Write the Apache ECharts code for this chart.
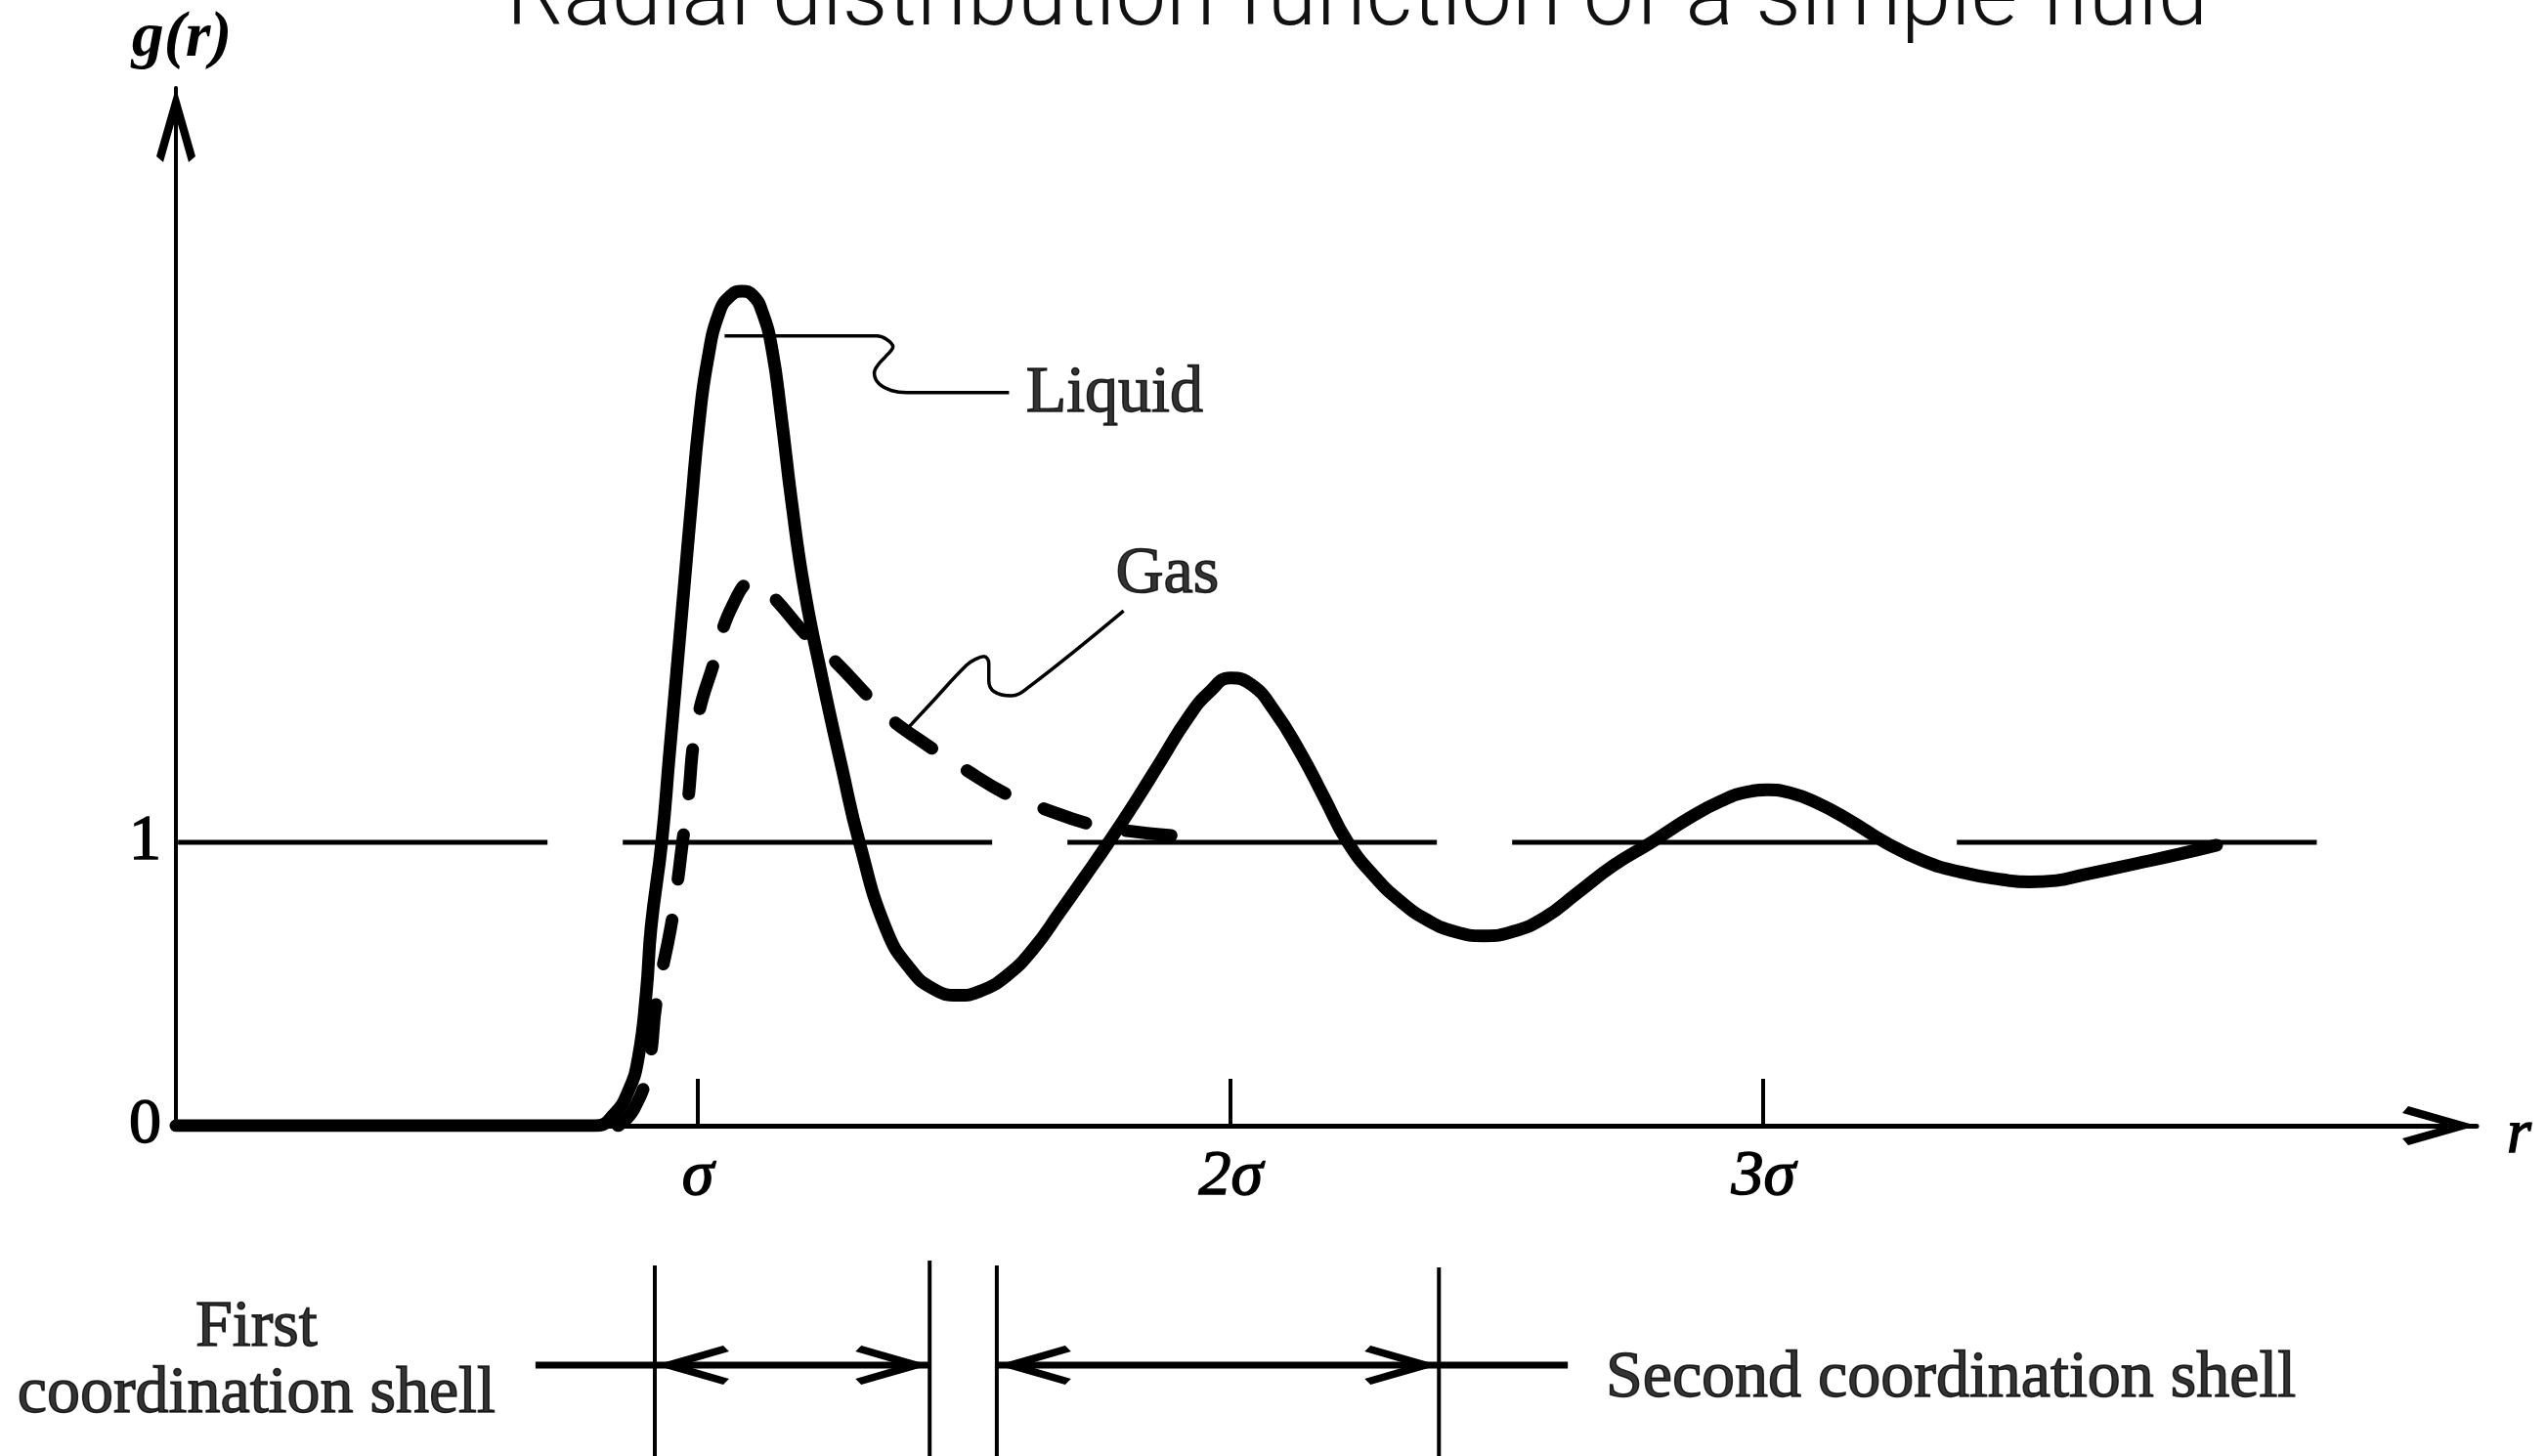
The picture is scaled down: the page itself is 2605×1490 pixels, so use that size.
<!DOCTYPE html>
<html><head><meta charset="utf-8">
<script src="https://cdn.jsdelivr.net/npm/echarts@6/dist/echarts.min.js"></script>
<style>html,body{margin:0;padding:0;background:#fff}#c{width:2605px;height:1490px}</style>
</head><body><div id="c"></div>
<script>
// ---------- data (r in units of sigma, g(r)) ----------
const titleText = 'Radial distribution function of a simple fluid';
const yAxisName = 'g(r)';
const xAxisName = 'r';
const xTickValues = [1, 2, 3];
const xTickLabels = ['σ', '2σ', '3σ'];
const yTickValues = [0, 1];
const yTickLabels = ['0', '1'];

const liquidR = [0.02, 0.60, 0.807, 0.842, 0.870, 0.888, 0.903, 0.912, 0.932, 0.946, 0.960, 0.974, 0.988, 1.002, 1.018, 1.040, 1.062, 1.083, 1.103, 1.121, 1.139, 1.156, 1.176, 1.200, 1.233, 1.270, 1.303, 1.354, 1.40, 1.44, 1.488, 1.53, 1.58, 1.63, 1.68, 1.725, 1.771, 1.82, 1.87, 1.92, 1.96, 2.00, 2.04, 2.08, 2.13, 2.175, 2.22, 2.27, 2.32, 2.37, 2.42, 2.475, 2.53, 2.59, 2.65, 2.72, 2.79, 2.86, 2.92, 2.97, 3.007, 3.05, 3.10, 3.16, 3.229, 3.30, 3.37, 3.45, 3.50, 3.55, 3.60, 3.70, 3.78, 3.851];
const liquidG = [0, 0, 0, 0.04, 0.125, 0.24, 0.47, 0.70, 1.0, 1.30, 1.60, 1.90, 2.20, 2.48, 2.70, 2.87, 2.93, 2.945, 2.93, 2.87, 2.74, 2.51, 2.20, 1.89, 1.58, 1.265, 1.0, 0.69, 0.55, 0.485, 0.46, 0.475, 0.53, 0.625, 0.755, 0.875, 1.0, 1.14, 1.29, 1.44, 1.53, 1.58, 1.555, 1.47, 1.32, 1.16, 1.0, 0.88, 0.79, 0.725, 0.685, 0.67, 0.685, 0.735, 0.82, 0.92, 1.0, 1.085, 1.145, 1.178, 1.185, 1.175, 1.14, 1.08, 1.0, 0.935, 0.895, 0.868, 0.86, 0.865, 0.885, 0.925, 0.958, 0.99];

const gasR = [0.85, 0.88, 0.906, 0.923, 0.949, 0.961, 0.971, 0.980, 0.998, 1.031, 1.066, 1.105, 1.139, 1.204, 1.246, 1.317, 1.345, 1.448, 1.486, 1.589, 1.640, 1.738, 1.809, 1.916];
const gasG = [0, 0.06, 0.20, 0.45, 0.70, 0.85, 1.0, 1.125, 1.42, 1.64, 1.84, 1.92, 1.87, 1.73, 1.66, 1.52, 1.46, 1.32, 1.275, 1.16, 1.125, 1.063, 1.04, 1.02];

const unityR = [0.024, 4.039];
const unityG = [1, 1];

const liquidLeaderR = [1.050, 1.336, 1.354, 1.366, 1.354, 1.339, 1.331, 1.340, 1.364, 1.392, 1.584];
const liquidLeaderG = [2.787, 2.787, 2.775, 2.749, 2.718, 2.687, 2.656, 2.618, 2.594, 2.587, 2.587];
const gasLeaderR = [1.397, 1.439, 1.504, 1.523, 1.537, 1.546, 1.546, 1.556, 1.588, 1.621, 1.799];
const gasLeaderG = [1.409, 1.494, 1.625, 1.648, 1.656, 1.632, 1.571, 1.532, 1.517, 1.548, 1.817];

const curveNames = ['Liquid', 'Gas'];
const curveNameR = [1.782, 1.881];
const curveNameG = [2.583, 1.945];

// coordination-shell markers (lower panel, y in 0..1 of that panel)
const shellBounds = [0.919, 1.435, 1.561, 2.391];
const shellTops = [0.975, 1.0, 0.975, 0.965];
const dimStart = [0.695, 1.561];
const dimEnd = [1.435, 2.633];
const dimLeftTip = [0.919, 1.561];
const dimRightTip = [1.435, 2.391];
const dimLevel = [0.465, 0.465];
const shellLabels = ['First\ncoordination shell', 'Second coordination shell'];
const shellLabelR = [0.171, 3.352];
const shellLabelY = [0.485, 0.395];

// ---------- chart ----------
const zip = (a, b) => a.map((v, i) => [v, b[i]]);
const SERIF = 'Liberation Serif';
const arrowPath = 'path://M20,0 L40,70 L33,76 L20,30 L7,76 L0,70 Z';
const X_MIN = 0.02, X_MAX = 4.339;
const INK = { color: '#000', textBorderColor: '#000', textBorderWidth: 1.5 };

function dart(tip, d) {
  const x = tip[0], y = tip[1];
  return [[x, y], [x + d * 70, y - 20], [x + d * 76, y - 14], [x + d * 28, y], [x + d * 76, y + 14], [x + d * 70, y + 20]];
}

const chart = echarts.init(document.getElementById('c'), null, { renderer: 'canvas' });
chart.setOption({
  animation: false,
  backgroundColor: '#fff',
  textStyle: { fontFamily: SERIF, color: '#000' },
  title: {
    text: titleText, left: 518, top: -44, padding: 0,
    textStyle: { fontFamily: 'Roboto', fontWeight: 300, fontSize: 92, color: '#111' }
  },
  grid: [
    { left: 180, right: 71, top: 90, bottom: 338 },
    { left: 180, right: 71, top: 1290, bottom: 0 }
  ],
  xAxis: [{
    type: 'value', min: X_MIN, max: X_MAX,
    name: xAxisName, nameLocation: 'end', nameGap: 31,
    nameTextStyle: Object.assign({ fontFamily: SERIF, fontStyle: 'italic', fontSize: 64, verticalAlign: 'top', lineHeight: 20 }, INK),
    axisLine: { show: true, onZero: false, symbol: ['none', arrowPath], symbolSize: [40, 76], symbolOffset: [0, -38],
      lineStyle: { color: '#000', width: 5 } },
    axisTick: { show: true, inside: true, length: 48, customValues: xTickValues, lineStyle: { color: '#000', width: 4 } },
    axisLabel: Object.assign({ show: true, customValues: xTickValues, margin: 20,
      formatter: v => xTickLabels[xTickValues.indexOf(v)] || '',
      fontFamily: SERIF, fontStyle: 'italic', fontSize: 66 }, INK),
    splitLine: { show: false }
  }, {
    type: 'value', gridIndex: 1, min: X_MIN, max: X_MAX, show: false
  }],
  yAxis: [{
    type: 'value', min: 0, max: 3.662,
    name: yAxisName, nameLocation: 'end', nameGap: 17,
    nameTextStyle: { fontFamily: SERIF, fontStyle: 'italic', fontWeight: 'bold', fontSize: 66, color: '#000', padding: [0, 0, 0, 12] },
    axisLine: { show: true, onZero: false, symbol: ['none', arrowPath], symbolSize: [40, 76], symbolOffset: [0, -38],
      lineStyle: { color: '#000', width: 4 } },
    axisTick: { show: false },
    axisLabel: Object.assign({ show: true, customValues: yTickValues, margin: 15,
      formatter: v => yTickLabels[yTickValues.indexOf(v)] || '',
      fontFamily: SERIF, fontSize: 66 }, INK),
    splitLine: { show: false }
  }, {
    type: 'value', gridIndex: 1, min: 0, max: 1, show: false
  }],
  series: [
    { type: 'line', name: 'unity', data: zip(unityR, unityG), symbol: 'none', silent: true,
      lineStyle: { color: '#000', width: 5, type: [378, 77] }, z: 2 },
    { type: 'line', name: 'Liquid', data: zip(liquidR, liquidG), symbol: 'none', smooth: 0.5,
      lineStyle: { color: '#000', width: 13, cap: 'round', join: 'round' }, z: 3 },
    { type: 'line', name: 'Gas', data: zip(gasR, gasG), symbol: 'none', smooth: 0.5,
      lineStyle: { color: '#000', width: 13, type: [46, 42], cap: 'round', join: 'round' }, z: 3 },
    { type: 'line', name: 'liquidLeader', data: zip(liquidLeaderR, liquidLeaderG), symbol: 'none', smooth: 0.4,
      lineStyle: { color: '#000', width: 3.5 }, z: 4 },
    { type: 'line', name: 'gasLeader', data: zip(gasLeaderR, gasLeaderG), symbol: 'none', smooth: 0.4,
      lineStyle: { color: '#000', width: 3.5 }, z: 4 },
    { type: 'scatter', name: 'curveNames', data: curveNameR.map((r, i) => [r, curveNameG[i], curveNames[i]]),
      symbolSize: 1, itemStyle: { color: 'rgba(0,0,0,0)' }, clip: false, z: 5,
      label: Object.assign({ show: true, position: 'inside', formatter: p => p.value[2], fontFamily: SERIF, fontSize: 68 }, INK) },
    // lower panel: shell boundaries
    { type: 'custom', name: 'shellBounds', xAxisIndex: 1, yAxisIndex: 1, clip: false,
      data: shellBounds.map((r, i) => [r, shellTops[i]]),
      renderItem: (params, api) => {
        const p0 = api.coord([api.value(0), 0]);
        const p1 = api.coord([api.value(0), api.value(1)]);
        return { type: 'line', shape: { x1: p0[0], y1: p0[1] + 5, x2: p1[0], y2: p1[1] },
          style: { stroke: '#000', lineWidth: 4 } };
      } },
    { type: 'custom', name: 'shellDims', xAxisIndex: 1, yAxisIndex: 1, clip: false,
      data: dimStart.map((s, i) => [s, dimEnd[i], dimLeftTip[i], dimRightTip[i], dimLevel[i]]),
      renderItem: (params, api) => {
        const lv = api.value(4);
        const a = api.coord([api.value(0), lv]);
        const b = api.coord([api.value(1), lv]);
        const lt = api.coord([api.value(2), lv]);
        const rt = api.coord([api.value(3), lv]);
        return { type: 'group', children: [
          { type: 'line', shape: { x1: a[0], y1: a[1], x2: b[0], y2: b[1] }, style: { stroke: '#000', lineWidth: 7 } },
          { type: 'polygon', shape: { points: dart(lt, 1) }, style: { fill: '#000' } },
          { type: 'polygon', shape: { points: dart(rt, -1) }, style: { fill: '#000' } }
        ] };
      } },
    { type: 'scatter', name: 'shellLabels', xAxisIndex: 1, yAxisIndex: 1, clip: false,
      data: shellLabelR.map((r, i) => [r, shellLabelY[i], shellLabels[i]]),
      symbolSize: 1, itemStyle: { color: 'rgba(0,0,0,0)' }, z: 5,
      label: Object.assign({ show: true, position: 'inside', formatter: p => p.value[2], fontFamily: SERIF, fontSize: 68,
        lineHeight: 68, align: 'center' }, INK) }
  ]
});
</script>
</body></html>
